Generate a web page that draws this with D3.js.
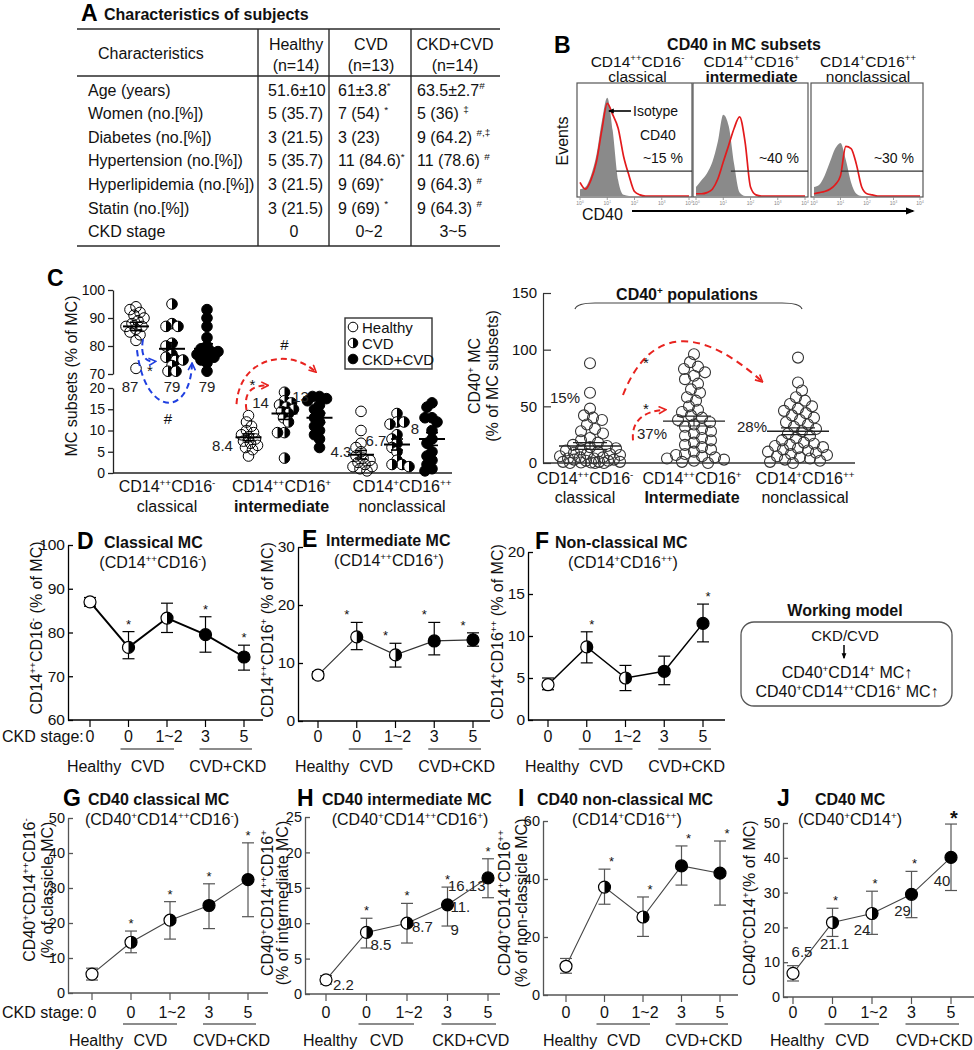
<!DOCTYPE html>
<html><head><meta charset="utf-8">
<script src="https://cdn.jsdelivr.net/npm/d3@7/dist/d3.min.js"></script>
<style>html,body{margin:0;padding:0;background:#fff}svg{display:block}</style>
</head><body>
<svg id="fig" width="974" height="1050" xmlns="http://www.w3.org/2000/svg"></svg>
<script>
// ================= DATA =================
// Panel A table
const tableTitle = "Characteristics of subjects";
const tableHeader = ["Characteristics", "Healthy", "CVD", "CKD+CVD"];
const tableN = ["(n=14)", "(n=13)", "(n=14)"];
const tableRows = ["Age (years)", "Women (no.[%])", "Diabetes (no.[%])", "Hypertension (no.[%])", "Hyperlipidemia (no.[%])", "Statin (no.[%])", "CKD stage"];
const colHealthy = ["51.6±10", "5 (35.7)", "3 (21.5)", "5 (35.7)", "3 (21.5)", "3 (21.5)", "0"];
const colCVD = ["61±3.8^{*}", "7 (54) ^{*}", "3 (23)", "11 (84.6)^{*}", "9 (69)^{*}", "9 (69) ^{*}", "0~2"];
const colCKD = ["63.5±2.7^{#}", "5 (36) ^{‡}", "9 (64.2) ^{#,‡}", "11 (78.6) ^{#}", "9 (64.3) ^{#}", "9 (64.3) ^{#}", "3~5"];

// Panel B histograms (log10 fluorescence grid, % of max events)
const histTitle = "CD40 in MC subsets";
const histTitles = [["CD14^{++}CD16^{-}", "classical"], ["CD14^{++}CD16^{+}", "intermediate"], ["CD14^{+}CD16^{++}", "nonclassical"]];
const histLog = [0, 0.2, 0.4, 0.6, 0.8, 1.0, 1.2, 1.4, 1.6, 1.8, 2.0, 2.2, 2.4, 3.0, 4.0];
const histIsoClassical = [6, 8, 18, 36, 66, 87, 58, 14, 1, 0, 0, 0, 0, 0, 0];
const histCd40Classical = [12, 6, 14, 30, 58, 82, 72, 60, 35, 18, 4, 1, 0, 0, 0];
const histIsoIntermediate = [8, 14, 20, 30, 48, 72, 62, 28, 3, 0, 0, 0, 0, 0, 0];
const histCd40Intermediate = [2, 2, 3, 6, 15, 30, 45, 60, 70, 48, 8, 1, 0, 0, 0];
const histIsoNonclassical = [8, 10, 18, 30, 42, 47, 32, 12, 2, 0, 0, 0, 0, 0, 0];
const histCd40Nonclassical = [2, 3, 4, 6, 10, 18, 44, 42, 28, 8, 2, 1, 0, 0, 0];
const gateLog = [1.33, 1.28, 1.02];
const gatePct = ["~15 %", "~40 %", "~30 %"];
const histTickLabels = ["0", "1", "2", "3", "4"];

// Panel C left: MC subsets (% of MC)
const subsets = ["classical", "intermediate", "nonclassical"];
const groups = ["Healthy", "CVD", "CKD+CVD"];
const classicalHealthy = [94, 93, 92, 91, 90, 89, 88, 87, 87, 86, 85, 84, 82, 72];
const classicalCVD = [95, 88, 87, 87, 81, 80, 77, 76, 75, 75, 73, 71, 71];
const classicalCKD = [93, 90, 87, 83, 80, 79, 78, 78, 77, 77, 76, 75, 74, 71];
const intermediateHealthy = [13.5, 12, 11, 10, 9.5, 9, 8.5, 8, 7.5, 7, 6.5, 6, 5.5, 4];
const intermediateCVD = [19, 17, 16.5, 16, 15.5, 15, 14.5, 14, 13, 12, 9.5, 9.5, 3.5];
const intermediateCKD = [18, 18, 17.5, 17, 16, 15, 14, 13, 12, 11, 10, 9, 8, 6];
const nonclassicalHealthy = [14.5, 10, 7, 6, 5, 4, 3.5, 3, 2.5, 2, 1.5, 1.5, 1, 0.5];
const nonclassicalCVD = [14, 12, 12, 11.5, 9, 8, 7, 6, 5, 3, 2, 2, 1.5];
const nonclassicalCKD = [16.5, 15.5, 13, 13, 12, 10, 8, 7, 5, 4, 3, 2, 1, 0.5];
const subsetMeans = [[87, 79, 79], [8.4, 14, 13], [4.3, 6.7, 8]];
const subsetSEM = [[1.5, 2.2, 1.8], [0.8, 1.4, 1.1], [1.0, 1.3, 1.5]];
const subsetMeanLabels = [["87", "79", "79"], ["8.4", "14", "13"], ["4.3", "6.7", "8"]];
const subsetTickLabels = [["CD14^{++}CD16^{-}", "classical"], ["CD14^{++}CD16^{+}", "intermediate"], ["CD14^{+}CD16^{++}", "nonclassical"]];

// Panel C right: CD40+ populations (% of MC subsets)
const cd40PosClassical = [88, 62, 48, 42, 40, 38, 34, 30, 28, 26, 22, 20, 18, 16, 15, 14, 13, 12, 11, 10, 9, 8, 8, 7, 6, 5, 5, 4, 4, 3, 3, 2, 2, 1, 1, 1, 0.5, 0.5, 0, 0, 0];
const cd40PosIntermediate = [96, 89, 85, 83, 80, 77, 74, 70, 65, 62, 58, 55, 50, 47, 45, 42, 40, 38, 36, 34, 32, 30, 28, 26, 24, 22, 20, 18, 16, 14, 12, 10, 8, 7, 6, 5, 4, 3, 2, 1, 0];
const cd40PosNonclassical = [93, 71, 64, 58, 55, 52, 50, 48, 46, 44, 42, 40, 38, 36, 34, 32, 30, 28, 26, 24, 22, 20, 18, 17, 16, 15, 14, 13, 12, 11, 10, 9, 8, 7, 6, 5, 4, 3, 2, 1, 0];
const cd40PosMeans = [15, 37, 28];
const cd40PosSEM = [3, 4.4, 3];
const cd40PosMeanLabels = ["15%", "37%", "28%"];
const cd40PosTickLabels = [["CD14^{++}CD16^{-}", "classical"], ["CD14^{++}CD16^{+}", "Intermediate"], ["CD14^{+}CD16^{++}", "nonclassical"]];
const cd40PosYTicks = [0, 50, 100, 150];

// Panels D-J: stage series
const stageKeys = ["H", "C0", "C12", "K3", "K5"];
const stageLabels = ["0", "0", "1~2", "3", "5"];
const markerTypes = ["open", "half", "half", "filled", "filled"];
const groupLabelsA = ["Healthy", "CVD", "CVD+CKD"];
const groupLabelsH = ["Healthy", "CVD", "CKD+CVD"];

const dMean = [87, 76.6, 83.3, 79.5, 74.4], dLo = [86, 74, 80, 75.5, 71.4], dHi = [88, 80.2, 86.7, 83.6, 77.1], dStar = [0, 1, 0, 1, 1];
const eMean = [7.9, 14.5, 11.4, 13.8, 14], eLo = [7.3, 12.3, 9.3, 11.4, 12.9], eHi = [8.5, 17, 13.4, 17, 15.2], eStar = [0, 1, 1, 1, 1];
const fMean = [4.2, 8.7, 5, 5.8, 11.5], fLo = [3.6, 6.8, 3.5, 4.2, 9.3], fHi = [5, 10.5, 6.5, 7.6, 13.8], fStar = [0, 1, 0, 0, 1];
const gMean = [5.4, 14.5, 20.8, 25, 32.4], gLo = [3.7, 11.5, 15.4, 18.4, 21.8], gHi = [7.1, 17.7, 26.1, 31.2, 42.9], gStar = [0, 1, 1, 1, 1];
const hMean = [2, 8.7, 10, 12.6, 16.4], hLo = [1.4, 6.5, 7.2, 9.6, 13.6], hHi = [2.6, 10.7, 12.8, 15.1, 19.1], hStar = [0, 1, 1, 1, 1];
const iMean = [9.9, 37.2, 26.9, 44.5, 42], iLo = [7.5, 31.3, 20.2, 37.9, 31], iHi = [12.6, 43.4, 33.8, 51.4, 53.1], iStar = [0, 1, 1, 1, 1];
const jMean = [6.8, 21.4, 24, 29.5, 40.1], jLo = [4.6, 17.4, 18, 22.8, 30.6], jHi = [9, 25.5, 30.4, 36.1, 49.7], jStar = [0, 1, 1, 1, 1];
const hValueLabels = ["2.2", "8.5", "8.7", "11.|9", "16.13"];
const jValueLabels = ["6.5", "21.1", "24", "29", "40"];

// Working model
const modelTitle = "Working model";
const modelLines = ["CKD/CVD", "CD40^{+}CD14^{+} MC↑", "CD40^{+}CD14^{++}CD16^{+} MC↑"];

// ================= HELPERS =================
const FONT = '"Liberation Sans", Arial, Helvetica, sans-serif';
const svg = d3.select("#fig").attr("font-family", FONT);

function rich(t, str, fs) {
  const parts = str.split(/(\^\{[^}]*\})/).filter(s => s.length > 0);
  let raised = false;
  parts.forEach(p => {
    if (p.startsWith("^{")) {
      const s = t.append("tspan").attr("font-size", fs * 0.62).text(p.slice(2, -1));
      if (!raised) { s.attr("dy", -fs * 0.4); raised = true; }
    } else {
      const s = t.append("tspan").text(p);
      if (raised) { s.attr("dy", fs * 0.4); raised = false; }
    }
  });
}
function txt(g, x, y, str, o = {}) {
  const fs = o.fs || 16;
  const t = g.append("text").attr("x", x).attr("y", y).attr("font-size", fs)
    .attr("text-anchor", o.anchor || "start").attr("fill", o.fill || "#111");
  if (o.bold) t.attr("font-weight", "bold");
  if (o.rot) t.attr("transform", `rotate(${o.rot},${x},${y})`);
  rich(t, String(str), fs);
  return t;
}
function ln(g, x1, y1, x2, y2, stroke, w, dash) {
  const l = g.append("line").attr("x1", x1).attr("y1", y1).attr("x2", x2).attr("y2", y2)
    .attr("stroke", stroke || "#000").attr("stroke-width", w || 1);
  if (dash) l.attr("stroke-dasharray", dash);
  return l;
}
function marker(g, type, x, y, r, sw, openFill) {
  g.append("circle").attr("cx", x).attr("cy", y).attr("r", r)
    .attr("fill", type === "filled" ? "#000" : (type === "half" ? "#fff" : openFill))
    .attr("stroke", "#000").attr("stroke-width", sw);
  if (type === "half") g.append("path").attr("d", `M${x},${y - r}A${r},${r} 0 0 1 ${x},${y + r}Z`).attr("fill", "#000");
}
function dodge(vals, ys, cx, minD, maxW) {
  const placed = [], out = new Array(vals.length);
  const order = vals.map((v, i) => i).sort((a, b) => vals[b] - vals[a] || a - b);
  order.forEach(i => {
    const y = ys(vals[i]);
    let bx = cx, bs = -1;
    outer: for (let k = 0; k <= maxW; k += 1) {
      const cands = k === 0 ? [cx] : (placed.length % 2 ? [cx - k, cx + k] : [cx + k, cx - k]);
      for (const x of cands) {
        let md = Infinity;
        for (const p of placed) { const d = Math.hypot(p.x - x, p.y - y); if (d < md) md = d; }
        if (md >= minD) { bx = x; bs = Infinity; break outer; }
        if (md > bs) { bs = md; bx = x; }
      }
    }
    placed.push({ x: bx, y }); out[i] = { x: bx, y };
  });
  return out;
}
const defs = svg.append("defs");
function mk(id, color, filled, size) {
  const m = defs.append("marker").attr("id", id).attr("viewBox", "0 0 10 10").attr("refX", 8).attr("refY", 5)
    .attr("markerWidth", size).attr("markerHeight", size).attr("markerUnits", "userSpaceOnUse").attr("orient", "auto");
  m.append("path").attr("d", filled ? "M0,1L10,5L0,9Z" : "M1,1L9,5L1,9")
    .attr("fill", filled ? color : "none").attr("stroke", filled ? "none" : color).attr("stroke-width", 1.8);
}
mk("aBlue", "#1f3fe0", false, 9); mk("aRed", "#e8231f", false, 9); mk("aBlk", "#000", true, 9); mk("aBlkS", "#000", true, 6);

// ================= PANEL A =================
(function () {
  const g = svg.append("g");
  txt(g, 81, 21, "A", { fs: 23, bold: true, fill: "#000" });
  txt(g, 104, 20, tableTitle, { fs: 16, bold: true });
  const L = 77, R = 500, T = 29, H = 76, B = 246, div = [258, 329, 411], cc = [296, 371, 455], cl = [268, 338, 417];
  [T, H, B].forEach(y => ln(g, L, y, R, y, "#2a2a2a", 1.6));
  div.forEach(x => ln(g, x, T, x, B, "#2a2a2a", 1.4));
  txt(g, 98, 59, tableHeader[0]);
  tableN.forEach((n, i) => {
    txt(g, cc[i], 50, tableHeader[i + 1], { anchor: "middle" });
    txt(g, cc[i], 71, n, { anchor: "middle" });
  });
  const cols = [colHealthy, colCVD, colCKD];
  tableRows.forEach((r, j) => {
    const by = 95.5 + j * 23.6;
    txt(g, 88, by, r);
    cols.forEach((c, i) => {
      if (j === tableRows.length - 1) txt(g, cc[i] - 2, by, c[j], { anchor: "middle" });
      else txt(g, cl[i], by, c[j]);
    });
  });
})();

// ================= PANEL B =================
(function () {
  const g = svg.append("g");
  txt(g, 554, 53, "B", { fs: 23, bold: true, fill: "#000" });
  txt(g, 744, 50, histTitle, { fs: 16, bold: true, anchor: "middle" });
  const boxes = [[577, 692], [693, 808], [811, 923]], top = 83, bot = 197;
  const isos = [histIsoClassical, histIsoIntermediate, histIsoNonclassical];
  const reds = [histCd40Classical, histCd40Intermediate, histCd40Nonclassical];
  boxes.forEach((b, i) => {
    const cx = (b[0] + b[1]) / 2;
    txt(g, cx + [3, 1, 1][i], 67, histTitles[i][0], { fs: 15.5, anchor: "middle" });
    txt(g, cx + [3, 1, 1][i], 82, histTitles[i][1], { fs: 15.5, anchor: "middle", bold: i === 1 });
    const xs = d3.scaleLinear([0, 4], [b[0] + 3, b[1] - 3]);
    const ys = d3.scaleLinear([0, 100], [bot - 1, top]);
    const iso = histLog.map((l, k) => ({ l, v: isos[i][k] }));
    const red = histLog.map((l, k) => ({ l, v: reds[i][k] }));
    g.append("path").datum(iso).attr("fill", "#8a8a8a")
      .attr("d", d3.area().x(d => xs(d.l)).y0(bot - 1).y1(d => ys(d.v)).curve(d3.curveMonotoneX));
    g.append("path").datum(red).attr("fill", "none").attr("stroke", "#e31a1c").attr("stroke-width", 1.7)
      .attr("d", d3.line().x(d => xs(d.l)).y(d => ys(d.v)).curve(d3.curveMonotoneX));
    g.append("rect").attr("x", b[0]).attr("y", top).attr("width", b[1] - b[0]).attr("height", bot - top)
      .attr("fill", "none").attr("stroke", "#555").attr("stroke-width", 1.2);
    ln(g, xs(gateLog[i]), ys(22), b[1], ys(22), "#333", 1.2);
    txt(g, b[1] - 9, ys(22) - 8, gatePct[i], { fs: 14, anchor: "end" });
    histTickLabels.forEach((t, k) => {
      ln(g, xs(k), bot, xs(k), bot + 3, "#888", 0.8);
      txt(g, xs(k), bot + 8, "10^{" + t + "}", { fs: 5, anchor: "middle", fill: "#888" });
    });
    if (i === 0) {
      txt(g, 633, 116, "Isotype", { fs: 14 });
      const l = ln(g, 631, 111, 609, 111, "#000", 1.6); l.attr("marker-end", "url(#aBlkS)");
      txt(g, 640, 140, "CD40", { fs: 14 });
    }
  });
  txt(g, 568, 141, "Events", { fs: 16, anchor: "middle", rot: -90 });
  txt(g, 582, 220, "CD40", { fs: 16 });
  ln(g, 632, 211, 913, 211, "#000", 2).attr("marker-end", "url(#aBlk)");
})();

// ================= PANEL C left =================
(function () {
  const g = svg.append("g");
  txt(g, 47, 286, "C", { fs: 23, bold: true, fill: "#000" });
  const yU = d3.scaleLinear([70, 100], [374, 290]);
  const yL = d3.scaleLinear([0, 20], [473, 388]);
  const sx = d3.scalePoint(subsets, [172, 397]);
  const off = [-36, 0, 35];
  const ax = 113;
  const ga = g.append("g").attr("transform", `translate(${ax},0)`);
  ga.append("g").call(d3.axisLeft(yU).tickValues([70, 80, 90, 100]).tickSize(5).tickSizeOuter(0).tickPadding(3));
  ga.append("g").call(d3.axisLeft(yL).tickValues([0, 5, 10, 15, 20]).tickSize(5).tickSizeOuter(0).tickPadding(3));
  ga.selectAll("g").attr("font-family", FONT);
  ga.selectAll("text").attr("font-size", 14).attr("fill", "#111");
  ga.selectAll("path,line").attr("stroke", "#222").attr("stroke-width", 1.3);
  ln(g, ax, 473, 452, 473, "#222", 1.3);
  txt(g, 77, 376, "MC subsets (% of MC)", { fs: 16, anchor: "middle", rot: -90 });
  const data = [[classicalHealthy, classicalCVD, classicalCKD], [intermediateHealthy, intermediateCVD, intermediateCKD], [nonclassicalHealthy, nonclassicalCVD, nonclassicalCKD]];
  const gTypes = ["open", "half", "filled"];
  const labOff = [[[-6, 66], [0, 43], [0, 43]], [[-26, 14], [-24, -6], [-19, -16]], [[-20, 2], [-21, 1], [-17, -5]]];
  subsets.forEach((s, si) => {
    const ys = si === 0 ? yU : yL;
    groups.forEach((gr, gi) => {
      const cx = sx(s) + off[gi];
      const pos = dodge(data[si][gi], ys, cx, 6.5, 12);
      pos.forEach(p => marker(g, gTypes[gi], p.x, p.y, 5.3, 1, "none"));
      const m = subsetMeans[si][gi], e = subsetSEM[si][gi];
      ln(g, cx - 13, ys(m), cx + 13, ys(m), "#000", 2);
      ln(g, cx, ys(m - e), cx, ys(m + e), "#000", 1.6);
      ln(g, cx - 6, ys(m - e), cx + 6, ys(m - e), "#000", 1.6);
      ln(g, cx - 6, ys(m + e), cx + 6, ys(m + e), "#000", 1.6);
      txt(g, cx + labOff[si][gi][0], ys(m) + labOff[si][gi][1], subsetMeanLabels[si][gi], { fs: 15, anchor: "middle", fill: "#222" });
    });
    const lx = sx(s) + [-5, -3, 5][si];
    txt(g, lx, 492, subsetTickLabels[si][0], { fs: 16, anchor: "middle" });
    txt(g, lx, 512, subsetTickLabels[si][1], { fs: 16, anchor: "middle", bold: si === 1 });
  });
  // legend
  g.append("rect").attr("x", 345).attr("y", 318).attr("width", 87).attr("height", 51).attr("fill", "#fff").attr("stroke", "#333").attr("stroke-width", 1.4);
  groups.forEach((gr, gi) => {
    const yy = 327 + gi * 16;
    marker(g, gTypes[gi], 353, yy, 4.8, 1, "#fff");
    txt(g, 362, yy + 5.5, gr, { fs: 15 });
  });
  // annotation arrows
  const hx = sx("classical") + off[0], cvx = sx("classical"), ckx = sx("classical") + off[2];
  const ix = sx("intermediate") + off[0], ikx = sx("intermediate") + off[2];
  g.append("path").attr("d", `M${hx + 7},${yU(82.5)} Q${hx + 3},${yU(74)} ${cvx - 17},${yU(74.5)}`)
    .attr("fill", "none").attr("stroke", "#1f3fe0").attr("stroke-width", 2).attr("stroke-dasharray", "6,4").attr("marker-end", "url(#aBlue)");
  txt(g, hx + 14, yU(71) + 5, "*", { fs: 15, anchor: "middle" });
  g.append("path").attr("d", `M${hx + 1},${yU(78.5)} C${hx + 9},${yL(13)} ${cvx + 18},${yL(13)} ${ckx - 15},${yU(73.6)}`)
    .attr("fill", "none").attr("stroke", "#1f3fe0").attr("stroke-width", 2).attr("stroke-dasharray", "6,4").attr("marker-end", "url(#aBlue)");
  txt(g, cvx - 4, yL(12.6) + 5, "#", { fs: 15, anchor: "middle" });
  g.append("path").attr("d", `M${ix - 2},${yL(14.8)} C${ix - 5},${yL(19)} ${ix + 3},${yL(20.6)} ${ix + 19},${yL(20.6)}`)
    .attr("fill", "none").attr("stroke", "#e8231f").attr("stroke-width", 2).attr("stroke-dasharray", "6,4").attr("marker-end", "url(#aRed)");
  txt(g, ix + 4, yL(21.6) + 8.5, "*", { fs: 15, anchor: "middle" });
  g.append("path").attr("d", `M${ix - 12},${yL(16.2)} C${ix - 9},${yU(76)} ${ix + 41},${yU(79.5)} ${ikx - 4},${yU(70.8)}`)
    .attr("fill", "none").attr("stroke", "#e8231f").attr("stroke-width", 2).attr("stroke-dasharray", "6,4").attr("marker-end", "url(#aRed)");
  txt(g, ix + 36, yU(80.4) + 5, "#", { fs: 15, anchor: "middle" });
})();

// ================= PANEL C right =================
(function () {
  const g = svg.append("g");
  const y = d3.scaleLinear([0, 150], [463, 293]);
  const sx = d3.scalePoint(subsets, [590, 798]);
  const ax = 543;
  const ga = g.append("g").attr("transform", `translate(${ax},0)`)
    .call(d3.axisLeft(y).tickValues(cd40PosYTicks).tickSize(-8).tickSizeOuter(0).tickPadding(6));
  ga.attr("font-family", FONT);
  ga.selectAll("text").attr("font-size", 15).attr("fill", "#111");
  ga.selectAll("path,line").attr("stroke", "#333").attr("stroke-width", 1.2);
  ln(g, ax, 463, 855, 463, "#333", 1.3);
  const data = [cd40PosClassical, cd40PosIntermediate, cd40PosNonclassical];
  const labOff = [[-25, -43], [-42, 18], [-46, 1]];
  subsets.forEach((s, si) => {
    const cx = sx(s);
    const pos = dodge(data[si], y, cx, 8.8, 30);
    pos.forEach(p => g.append("circle").attr("cx", p.x).attr("cy", p.y).attr("r", 5.5)
      .attr("fill", "none").attr("stroke", "#333").attr("stroke-width", 1.1));
    const m = cd40PosMeans[si], e = cd40PosSEM[si];
    ln(g, cx - 31, y(m), cx + 31, y(m), "#222", 1.3);
    ln(g, cx - 17, y(m + e), cx + 17, y(m + e), "#222", 1.1);
    ln(g, cx - 17, y(m - e), cx + 17, y(m - e), "#222", 1.1);
    ln(g, cx, y(m - e), cx, y(m + e), "#222", 1.1);
    txt(g, cx + labOff[si][0], y(m) + labOff[si][1], cd40PosMeanLabels[si], { fs: 15, anchor: "middle", fill: "#222" });
    const lx = cx + [-5, -2, 7][si];
    txt(g, lx, 484, cd40PosTickLabels[si][0], { fs: 16, anchor: "middle" });
    txt(g, lx, 503, cd40PosTickLabels[si][1], { fs: 16, anchor: "middle", bold: si === 1 });
  });
  txt(g, 480, 376, "CD40^{+} MC", { fs: 16, anchor: "middle", rot: -90 });
  txt(g, 498, 376, "(% of MC subsets)", { fs: 16, anchor: "middle", rot: -90 });
  txt(g, 687, 300, "CD40^{+} populations", { fs: 16, bold: true, anchor: "middle" });
  g.append("path").attr("d", "M575,309 Q577,303 595,303 L782,303 Q800,303 802,309").attr("fill", "none").attr("stroke", "#444").attr("stroke-width", 1.2);
  const c0 = sx("classical"), c2 = sx("nonclassical");
  g.append("path").attr("d", `M${c0 + 33},${y(60)} C${c0 + 60},${y(121)} ${c0 + 110},${y(121)} ${c2 - 36},${y(72)}`)
    .attr("fill", "none").attr("stroke", "#e8231f").attr("stroke-width", 2).attr("stroke-dasharray", "7,5").attr("marker-end", "url(#aRed)");
  txt(g, c0 + 56, y(91) + 8.5, "*", { fs: 15, anchor: "middle" });
  g.append("path").attr("d", `M${c0 + 43},${y(20)} C${c0 + 41},${y(38)} ${c0 + 55},${y(46)} ${c0 + 75},${y(47)}`)
    .attr("fill", "none").attr("stroke", "#e8231f").attr("stroke-width", 2).attr("stroke-dasharray", "6,4").attr("marker-end", "url(#aRed)");
  txt(g, c0 + 56, y(51) + 8.5, "*", { fs: 15, anchor: "middle" });
})();

// ================= PANELS D-J =================
const panelsDJ = [
  { letter: "D", title: "Classical MC", sub: "(CD14^{++}CD16^{-})", letterX: 77, titleX: 104, subX: 153, titleY: 548,
    ax: 68, axEnd: 263, yT: 545, yB: 720, dom: [60, 100], ticks: [60, 70, 80, 90, 100], x1: 90, x2: 244,
    tickY: 742, ulY: 749, grpY: 772,
    mean: dMean, lo: dLo, hi: dHi, star: dStar, starDx: 0, ylab: ["CD14^{++}CD16^{-} (% of MC)"], ylabX: [37], ylabY: 628,
    axisColor: "#000", lineColor: "#000", lw: 2, errColor: "#000", tfs: 15, stageLabel: true, gl: groupLabelsA },
  { letter: "E", title: "Intermediate MC", sub: "(CD14^{++}CD16^{+})", letterX: 302, titleX: 326, subX: 389, titleY: 546,
    ax: 298, axEnd: 490, yT: 547, yB: 721, dom: [0, 30], ticks: [0, 10, 20, 30], x1: 318, x2: 473,
    tickY: 742, ulY: 749, grpY: 772,
    mean: eMean, lo: eLo, hi: eHi, star: eStar, starDx: -10, ylab: ["CD14^{++}CD16^{+} (% of MC)"], ylabX: [268], ylabY: 630,
    axisColor: "#000", lineColor: "#333", lw: 1.2, errColor: "#000", tfs: 15, gl: groupLabelsA },
  { letter: "F", title: "Non-classical MC", sub: "(CD14^{+}CD16^{++})", letterX: 535, titleX: 555, subX: 623, titleY: 548,
    ax: 528, axEnd: 725, yT: 552, yB: 720, dom: [0, 20], ticks: [0, 5, 10, 15, 20], x1: 548, x2: 703,
    tickY: 742, ulY: 749, grpY: 772,
    mean: fMean, lo: fLo, hi: fHi, star: fStar, starDx: 5, ylab: ["CD14^{+}CD16^{++} (% of MC)"], ylabX: [498], ylabY: 632,
    axisColor: "#000", lineColor: "#000", lw: 1.5, errColor: "#000", tfs: 15, gl: groupLabelsA },
  { letter: "G", title: "CD40 classical MC", sub: "(CD40^{+}CD14^{++}CD16^{-})", letterX: 63, titleX: 88, subX: 162, titleY: 805,
    ax: 68, axEnd: 268, yT: 818, yB: 993, dom: [0, 50], ticks: [0, 10, 20, 30, 40, 50], x1: 92, x2: 248,
    tickY: 1018, ulY: 1024, grpY: 1046,
    mean: gMean, lo: gLo, hi: gHi, star: gStar, starDx: 0, ylab: ["CD40^{+}CD14^{++}CD16^{-}", "(% of classicle MC)"], ylabX: [30, 48], ylabY: 890,
    axisColor: "#555", lineColor: "#444", lw: 1.1, errColor: "#555", tfs: 14, stageLabel: true, gl: groupLabelsA },
  { letter: "H", title: "CD40 intermediate MC", sub: "(CD40^{+}CD14^{++}CD16^{+})", letterX: 297, titleX: 322, subX: 410, titleY: 805,
    ax: 305, axEnd: 500, yT: 817, yB: 994, dom: [0, 25], ticks: [0, 5, 10, 15, 20, 25], x1: 326, x2: 488,
    tickY: 1018, ulY: 1024, grpY: 1046,
    mean: hMean, lo: hLo, hi: hHi, star: hStar, starDx: 0, ylab: ["CD40^{+}CD14^{++}CD16^{+}", "(% of intermediate MC)"], ylabX: [268, 283], ylabY: 903,
    axisColor: "#555", lineColor: "#444", lw: 1.1, errColor: "#555", tfs: 14, gl: groupLabelsH,
    vlabels: hValueLabels, voff: [[7, 10, "start"], [4, 18, "start"], [5, 9, "start"], [3, 7, "start"], [-40, 13, "start"]] },
  { letter: "I", title: "CD40 non-classical MC", sub: "(CD14^{+}CD16^{++})", letterX: 518, titleX: 537, subX: 627, titleY: 805,
    ax: 543, axEnd: 738, yT: 821, yB: 995, dom: [0, 60], ticks: [0, 20, 40, 60], x1: 566, x2: 720,
    tickY: 1018, ulY: 1024, grpY: 1046,
    mean: iMean, lo: iLo, hi: iHi, star: iStar, starDx: 7, ylab: ["CD40^{+}CD14^{+}CD16^{++}", "(% of non-classicle MC)"], ylabX: [505, 522], ylabY: 903,
    axisColor: "#555", lineColor: "#444", lw: 1.1, errColor: "#555", tfs: 14, gl: groupLabelsA },
  { letter: "J", title: "CD40 MC", sub: "(CD40^{+}CD14^{+})", letterX: 777, titleX: 815, subX: 850, titleY: 805,
    ax: 783, axEnd: 974, yT: 823, yB: 997, dom: [0, 50], ticks: [0, 10, 20, 30, 40, 50], x1: 793, x2: 951,
    tickY: 1018, ulY: 1024, grpY: 1046,
    mean: jMean, lo: jLo, hi: jHi, star: jStar, starDx: 3, bigLast: true, ylab: ["CD40^{+}CD14^{+}(% of MC)"], ylabX: [750], ylabY: 903,
    axisColor: "#555", lineColor: "#444", lw: 1.1, errColor: "#555", tfs: 14, gl: groupLabelsA,
    vlabels: jValueLabels, voff: [[9, -16, "middle"], [2, 26, "middle"], [-10, 22, "middle"], [-9, 22, "middle"], [-9, 29, "middle"]] }
];

function lineChart(c) {
  const g = svg.append("g");
  const x = d3.scalePoint(stageKeys, [c.x1, c.x2]);
  const y = d3.scaleLinear(c.dom, [c.yB, c.yT]);
  const yg = g.append("g").attr("transform", `translate(${c.ax},0)`)
    .call(d3.axisLeft(y).tickValues(c.ticks).tickSize(-5).tickSizeOuter(0).tickPadding(3));
  yg.attr("font-family", FONT);
  yg.selectAll("text").attr("font-size", c.tfs + 0.5).attr("fill", "#111");
  yg.selectAll("path,line").attr("stroke", c.axisColor).attr("stroke-width", 1.3);
  ln(g, c.ax, c.yB, c.axEnd, c.yB, c.axisColor, 1.3);
  stageKeys.forEach((k, i) => {
    ln(g, x(k), c.yB, x(k), c.yB + 7, c.axisColor, 1.2);
    txt(g, x(k) + (i === 2 ? 2 : 0), c.tickY, stageLabels[i], { fs: 16, anchor: "middle" });
  });
  ln(g, x("C0") - 8, c.ulY, x("C12") + 7, c.ulY, "#666", 1.4);
  ln(g, x("K3") - 6, c.ulY, x("K5") + 8, c.ulY, "#666", 1.4);
  txt(g, x("H") + 4, c.grpY, c.gl[0], { fs: 16, anchor: "middle" });
  txt(g, (x("C0") + x("C12")) / 2, c.grpY, c.gl[1], { fs: 16, anchor: "middle" });
  txt(g, (x("K3") + x("K5")) / 2 + 3, c.grpY, c.gl[2], { fs: 16, anchor: "middle" });
  if (c.stageLabel) txt(g, 2, c.tickY, "CKD stage:", { fs: 16 });
  const line = d3.line().x((d, i) => x(stageKeys[i])).y(d => y(d));
  g.append("path").attr("d", line(c.mean)).attr("fill", "none").attr("stroke", c.lineColor).attr("stroke-width", c.lw);
  c.mean.forEach((m, i) => {
    const xx = x(stageKeys[i]);
    ln(g, xx, y(c.lo[i]), xx, y(c.hi[i]), c.errColor, 1.2);
    ln(g, xx - 6, y(c.lo[i]), xx + 6, y(c.lo[i]), c.errColor, 1.2);
    ln(g, xx - 6, y(c.hi[i]), xx + 6, y(c.hi[i]), c.errColor, 1.2);
  });
  c.mean.forEach((m, i) => marker(g, markerTypes[i], x(stageKeys[i]), y(m), 6, 1.2, "#fff"));
  c.star.forEach((s, i) => {
    if (!s) return;
    const big = c.bigLast && i === 4;
    txt(g, x(stageKeys[i]) + c.starDx, y(c.hi[i]) + (big ? 1 : -3), "*", { fs: big ? 20 : 13, anchor: "middle", bold: big });
  });
  if (c.vlabels) {
    c.vlabels.forEach((lab, i) => {
      const [dx, dy, an] = c.voff[i];
      const parts = lab.split("|");
      parts.forEach((p, k) => txt(g, x(stageKeys[i]) + dx, y(c.mean[i]) + dy + k * 23, p, { fs: 15, anchor: an, fill: "#222" }));
    });
  }
  txt(g, c.letterX, c.titleY + 1, c.letter, { fs: 23, bold: true, fill: "#000" });
  txt(g, c.titleX, c.titleY, c.title, { fs: 16, bold: true });
  txt(g, c.subX, c.titleY + 20, c.sub, { fs: 16, anchor: "middle" });
  c.ylab.forEach((l, j) => txt(g, c.ylabX[j] + 5, c.ylabY, l, { fs: 16, anchor: "middle", rot: -90 }));
}
panelsDJ.forEach(lineChart);

// ================= Working model =================
(function () {
  const g = svg.append("g");
  txt(g, 845, 616, modelTitle, { fs: 16, bold: true, anchor: "middle" });
  g.append("rect").attr("x", 741).attr("y", 622).attr("width", 211).attr("height", 84).attr("rx", 13)
    .attr("fill", "none").attr("stroke", "#555").attr("stroke-width", 1.3);
  txt(g, 845, 641, modelLines[0], { fs: 15, anchor: "middle" });
  ln(g, 844, 645, 844, 658, "#000", 1.5).attr("marker-end", "url(#aBlkS)");
  txt(g, 847, 678, modelLines[1], { fs: 16, anchor: "middle" });
  txt(g, 847, 697, modelLines[2], { fs: 16, anchor: "middle" });
})();
</script></body></html>
